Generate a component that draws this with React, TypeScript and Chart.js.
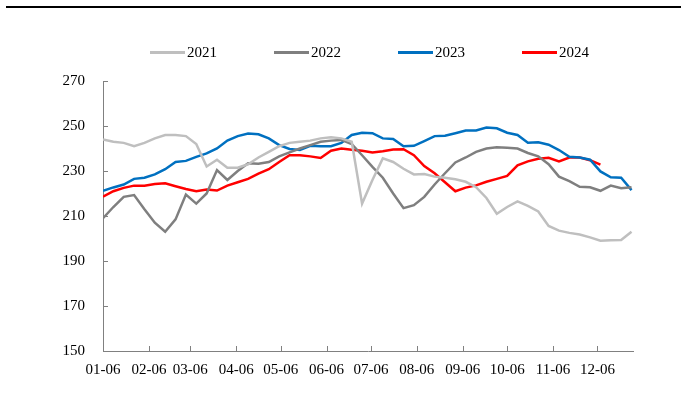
import React, { useEffect, useRef } from "react";
import { Chart, registerables } from "chart.js";

Chart.register(...registerables);

// Day offsets (from 01-06) of the x-axis tick labels
const tickLabels = ["01-06", "02-06", "03-06", "04-06", "05-06", "06-06", "07-06", "08-06", "09-06", "10-06", "11-06", "12-06"];
const tickDays = [0, 31, 59, 90, 120, 151, 181, 212, 243, 273, 304, 334];

// Weekly observation days (offset from 01-06)
const weekDays = [
  0, 7, 14, 21, 28, 35, 42, 49, 56, 63, 70, 77, 84, 91, 98, 105, 112, 119, 126, 133,
  140, 147, 154, 161, 168, 175, 182, 189, 196, 203, 210, 217, 224, 231, 238, 245, 252, 259, 266, 273,
  280, 287, 294, 301, 308, 315, 322, 329, 336, 343, 350, 357,
];

const seriesNames = ["2021", "2022", "2023", "2024"];
const seriesColors = ["#BFBFBF", "#7F7F7F", "#0070C0", "#FF0000"];

const s2021 = [
  244, 243, 242.5, 241, 242.5, 244.5, 246, 246, 245.5, 242, 232, 235, 231.5, 231.5, 233, 236, 238.5, 241, 242.5, 243,
  243.5, 244.5, 245, 244.5, 243, 215.5, 226, 235.6, 234, 231, 228.5, 228.7, 227.5, 227, 226.3, 225.2, 222.8, 218, 211, 214,
  216.5, 214.5, 212, 205.6, 203.5, 202.5, 201.8, 200.5, 199, 199.2, 199.3, 203,
];
const s2022 = [
  209, 214, 218.5, 219.3, 213, 207, 203, 208.5, 219.5, 215.5, 220, 230.4, 226, 230, 233.4, 233.2, 234, 236.5, 238.3, 240,
  241.5, 243, 243.5, 243.8, 242, 237, 231.8, 227, 220, 213.5, 214.8, 218.5, 224, 229, 233.8, 236, 238.5, 240, 240.5, 240.3,
  240, 238, 236.5, 233, 227.5, 225.5, 223, 222.8, 221.2, 223.5, 222.3, 222.8,
];
const s2023 = [
  221.2, 222.7, 224, 226.5, 227, 228.5, 230.8, 234, 234.5, 236.3, 237.8, 240, 243.5, 245.5, 246.7, 246.3, 244.5, 241.5, 239.8, 239.3,
  241.2, 241, 241, 242.5, 246, 247, 246.8, 244.5, 244.2, 241, 241.2, 243.3, 245.5, 245.7, 246.8, 248, 248, 249.3, 249, 247,
  246, 242.6, 242.8, 241.7, 239.3, 236.3, 236, 235, 229.8, 227.2, 227, 221.5,
];
const s2024 = [
  218.6, 221, 222.5, 223.5, 223.5, 224.2, 224.5, 223.2, 222, 221, 221.8, 221.3, 223.5, 225, 226.5, 228.8, 230.8, 234, 237, 237,
  236.5, 235.8, 239, 240, 239.4, 239, 238.2, 238.8, 239.6, 239.7, 237, 232.2, 229, 225, 221, 222.6, 223.6, 225.2, 226.5, 227.8,
  232.5, 234.3, 235.4, 235.9, 234.3, 236, 236, 234.8, 232.8,
];

const yMin = 150;
const yMax = 270;
const yStep = 20;

const FONT = "'Liberation Serif', 'Times New Roman', serif";

const decorPlugin = {
  id: "decor",
  afterDraw(chart: any) {
    const ctx = chart.ctx;
    const xs = chart.scales.x;
    const ys = chart.scales.y;
    const area = chart.chartArea;
    ctx.save();
    // top rule
    ctx.fillStyle = "#000000";
    ctx.fillRect(6, 6, 675, 2);
    // tick marks
    ctx.strokeStyle = "#808080";
    ctx.lineWidth = 1;
    ctx.beginPath();
    for (let v = yMin; v <= yMax; v += yStep) {
      const py = Math.round(ys.getPixelForValue(v)) + 0.5;
      ctx.moveTo(area.left, py);
      ctx.lineTo(area.left + 5, py);
    }
    for (let i = 1; i < tickDays.length; i++) {
      const px = Math.round(xs.getPixelForValue(tickDays[i])) + 0.5;
      ctx.moveTo(px, area.bottom);
      ctx.lineTo(px, area.bottom - 5);
    }
    ctx.stroke();
    // legend
    ctx.font = `15px ${FONT}`;
    ctx.textBaseline = "middle";
    ctx.textAlign = "left";
    const startX = 150;
    const spacing = 124;
    chart.data.datasets.forEach((ds: any, i: number) => {
      const x0 = startX + i * spacing;
      ctx.strokeStyle = ds.borderColor;
      ctx.lineWidth = 3;
      ctx.beginPath();
      ctx.moveTo(x0, 52.5);
      ctx.lineTo(x0 + 35, 52.5);
      ctx.stroke();
      ctx.fillStyle = "#000000";
      ctx.fillText(ds.label, x0 + 37, 53);
    });
    ctx.restore();
  },
};

export default function App() {
  const ref = useRef<HTMLCanvasElement | null>(null);

  useEffect(() => {
    if (!ref.current) return;
    const all = [s2021, s2022, s2023, s2024];
    const chart = new Chart(ref.current, {
      type: "line",
      data: {
        datasets: all.map((s, k) => ({
          label: seriesNames[k],
          data: s.map((v, i) => ({ x: weekDays[i], y: v })),
          borderColor: seriesColors[k],
          backgroundColor: seriesColors[k],
          borderWidth: 2.5,
          pointRadius: 0,
          tension: 0,
          fill: false,
        })),
      },
      options: {
        animation: false,
        responsive: false,
        maintainAspectRatio: false,
        layout: { padding: { top: 81, right: 48, left: 0, bottom: 0 } },
        plugins: { legend: { display: false }, tooltip: { enabled: false } },
        scales: {
          x: {
            type: "linear",
            min: 0,
            max: 358,
            grid: { display: false, drawTicks: false },
            border: { display: true, color: "#808080", width: 1 },
            afterBuildTicks: (scale: any) => {
              scale.ticks = tickDays.map((d) => ({ value: d }));
            },
            afterFit: (scale: any) => {
              scale.height = 47;
            },
            ticks: {
              autoSkip: false,
              maxRotation: 0,
              padding: 10,
              color: "#000000",
              font: { family: FONT, size: 15 },
              callback: (value: any) => {
                const idx = tickDays.indexOf(Number(value));
                return idx >= 0 ? tickLabels[idx] : "";
              },
            },
          },
          y: {
            min: yMin,
            max: yMax,
            grid: { display: false, drawTicks: false },
            border: { display: true, color: "#808080", width: 1 },
            afterFit: (scale: any) => {
              scale.width = 103;
            },
            ticks: {
              stepSize: yStep,
              padding: 18,
              color: "#000000",
              font: { family: FONT, size: 15 },
            },
          },
        },
      },
      plugins: [decorPlugin],
    } as any);
    return () => chart.destroy();
  }, []);

  return (
    <div style={{ position: "absolute", left: 0, top: 0, width: 681, height: 398, background: "#ffffff" }}>
      <canvas ref={ref} width={681} height={398} style={{ width: 681, height: 398, display: "block" }} />
    </div>
  );
}
